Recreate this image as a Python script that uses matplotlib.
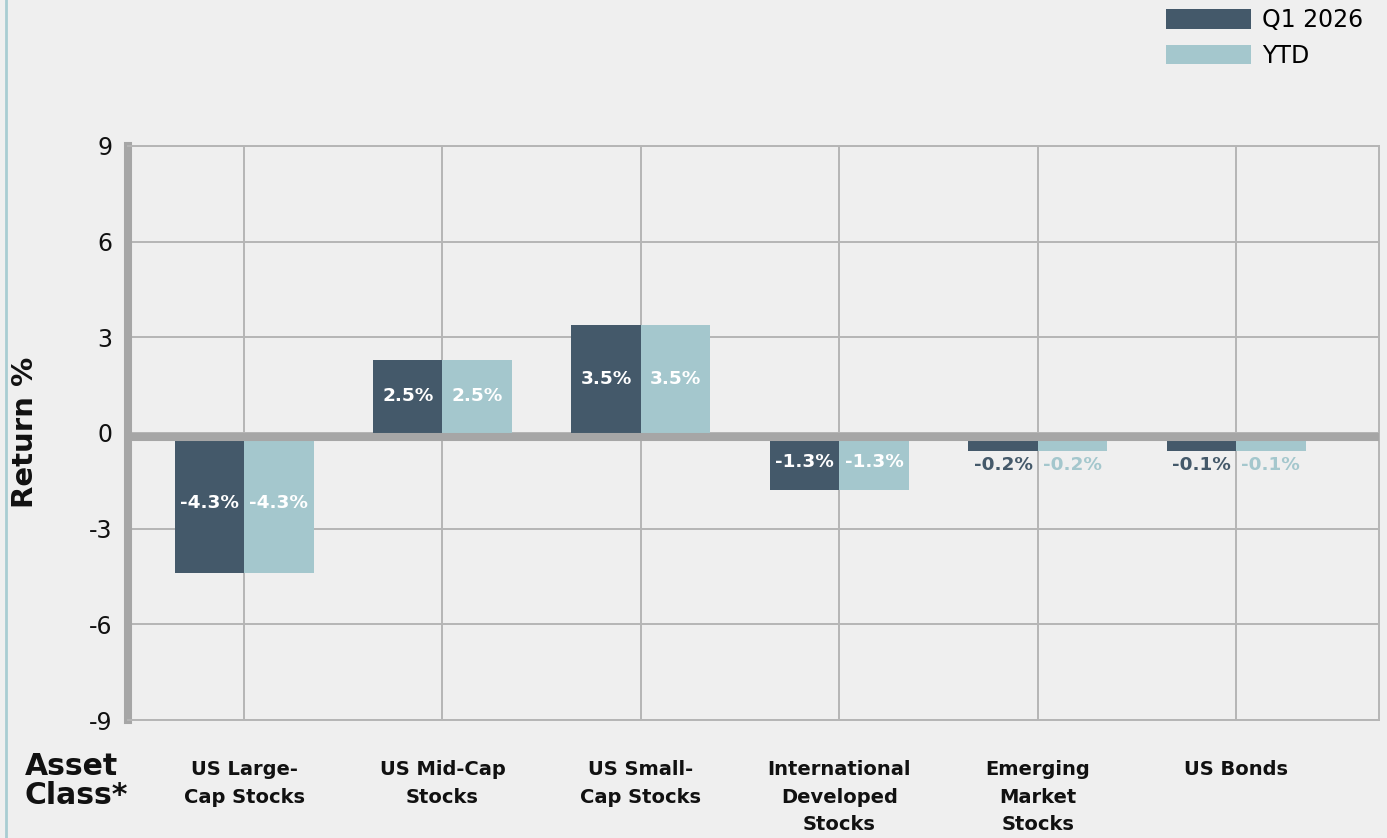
import matplotlib
matplotlib.use("Agg")
import matplotlib.pyplot as plt
import matplotlib.transforms as mtransforms
from matplotlib.patches import Patch
from matplotlib.lines import Line2D
import numpy as np

plt.rcParams['font.family'] = ['DejaVu Sans']

categories = ["US Large-\nCap Stocks", "US Mid-Cap\nStocks", "US Small-\nCap Stocks",
              "International\nDeveloped\nStocks", "Emerging\nMarket\nStocks", "US Bonds"]
q1_values = [-4.4, 2.3, 3.4, -1.8, -0.55, -0.55]
ytd_values = [-4.4, 2.3, 3.4, -1.8, -0.55, -0.55]
q1_labels = ["-4.3%", "2.5%", "3.5%", "-1.3%", "-0.2%", "-0.1%"]
ytd_labels = ["-4.3%", "2.5%", "3.5%", "-1.3%", "-0.2%", "-0.1%"]
series_names = ["Q1 2026", "YTD"]
yticks = [9, 6, 3, 0, -3, -6, -9]

DARK = "#44596a"
LIGHT = "#a4c7cd"
BG = "#efefef"
GRID = "#b5b5b5"
ZERO = "#a6a6a6"

W, H = 1387, 838
fig = plt.figure(figsize=(W / 100, H / 100), dpi=100, facecolor=BG)

ax_l, ax_r, ax_t, ax_b = 128, 1379, 146, 720
ax = fig.add_axes([ax_l / W, 1 - ax_b / H, (ax_r - ax_l) / W, (ax_b - ax_t) / H])
ax.set_facecolor(BG)

x = np.arange(len(categories))
bw = 0.35
ax.set_xlim(-0.585, len(categories) - 1 + 0.72)
ax.set_ylim(-9, 9)

# grid
ax.set_yticks(yticks)
ax.set_yticklabels([str(t) for t in yticks])
ax.set_xticks(x)
ax.set_xticklabels(categories)
ax.grid(True, color=GRID, lw=1.4, zorder=0)
ax.set_axisbelow(True)

b1 = ax.bar(x - bw / 2, q1_values, bw, color=DARK, zorder=2)
b2 = ax.bar(x + bw / 2, ytd_values, bw, color=LIGHT, zorder=2)

# zero line (thick band just below zero)
off = mtransforms.offset_copy(ax.transData, fig=fig, x=0, y=-4, units='dots')
ax.add_line(Line2D([0, 1], [0, 0], transform=mtransforms.blended_transform_factory(ax.transAxes, off),
                   color=ZERO, lw=5.8, zorder=3, solid_capstyle='butt'))

# value labels
for bars, vals, labs, col in [(b1, q1_values, q1_labels, DARK), (b2, ytd_values, ytd_labels, LIGHT)]:
    for rect, v, lab in zip(bars, vals, labs):
        cx = rect.get_x() + rect.get_width() / 2
        if abs(v) >= 1:
            ax.text(cx, v / 2, lab, ha='center', va='center', color='white',
                    fontsize=13.3, fontweight='bold', zorder=4)
        else:
            ax.text(cx, v - 0.45, lab, ha='center', va='center', color=col,
                    fontsize=13.3, fontweight='bold', zorder=4)

for s in ax.spines.values():
    s.set_color(GRID)
    s.set_linewidth(1.4)
ax.spines['left'].set_color(ZERO)
ax.spines['left'].set_linewidth(5.8)

ax.tick_params(axis='y', length=0, pad=11, labelsize=17, labelcolor='#111111')
ax.tick_params(axis='x', length=0, pad=29, labelsize=14, labelcolor='#111111')
for lbl in ax.get_xticklabels():
    lbl.set_fontweight('bold')
    lbl.set_linespacing(1.55)
    lbl.set_verticalalignment('top')

fig.text(25 / W, 1 - 432 / H, "Return %", rotation=90, ha='center', va='center',
         fontsize=21, fontweight='bold', color='#111111')
fig.text(25 / W, 1 - 752 / H, "Asset\nClass*", ha='left', va='top',
         fontsize=21.5, fontweight='bold', color='#111111', linespacing=1.0)

# left border line
fig.add_artist(Line2D([6 / W, 6 / W], [0, 1], transform=fig.transFigure, color="#a9cdd2", lw=2))

handles = [Patch(facecolor=DARK, edgecolor='none'), Patch(facecolor=LIGHT, edgecolor='none')]
fig.legend(handles, series_names, loc='upper left', bbox_to_anchor=(1166 / W, 1 - 8 / H),
           frameon=False, fontsize=17, handlelength=3.6, handleheight=0.9,
           handletextpad=0.45, labelspacing=0.5, borderpad=0, borderaxespad=0)

fig.savefig("out.png", dpi=100, facecolor=BG)
